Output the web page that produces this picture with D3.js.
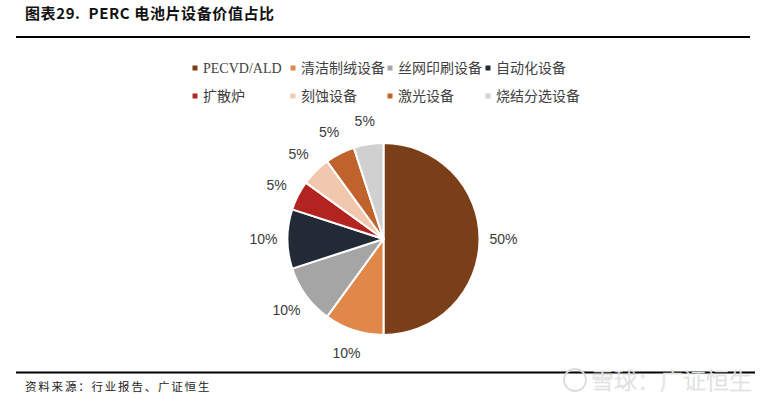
<!DOCTYPE html>
<html>
<head>
<meta charset="utf-8">
<script src="https://cdn.jsdelivr.net/npm/d3@7"></script>
<style>
  html, body { margin: 0; padding: 0; background: #fff; }
  svg { display: block; }
</style>
</head>
<body>
<svg id="chart" width="772" height="402"></svg>
<script>
// Equipment value share of a PERC cell line
const categories = ["PECVD/ALD", "清洁制绒设备", "丝网印刷设备", "自动化设备", "扩散炉", "刻蚀设备", "激光设备", "烧结分选设备"];
const shares = [50, 10, 10, 10, 5, 5, 5, 5];
const colors = ["#7a3e19", "#e0874a", "#a5a5a5", "#222a35", "#b3231f", "#f1c8ad", "#c0622b", "#d0d0d0"];

const titleText = "图表29.  PERC 电池片设备价值占比";
const sourceText = "资料来源：行业报告、广证恒生";
const watermarkText = "雪球：广证恒生";

const svg = d3.select("#chart");
const cjk = "'Noto Sans CJK SC', 'Noto Sans', sans-serif";
const serif = "'Liberation Serif', 'Noto Sans CJK SC', serif";

// Title and rules
svg.append("text")
  .attr("x", 25).attr("y", 19)
  .style("white-space", "pre")
  .attr("font-family", cjk).attr("font-weight", "bold")
  .attr("font-size", 15).attr("fill", "#111")
  .attr("letter-spacing", 0.6)
  .text(titleText);

svg.append("line").attr("x1", 16).attr("x2", 750).attr("y1", 37).attr("y2", 37)
  .attr("stroke", "#000").attr("stroke-width", 2);
svg.append("line").attr("x1", 16).attr("x2", 755).attr("y1", 372.5).attr("y2", 372.5)
  .attr("stroke", "#000").attr("stroke-width", 2);

svg.append("text")
  .attr("x", 25).attr("y", 391)
  .attr("font-family", cjk).attr("font-size", 11.5)
  .attr("letter-spacing", 1.8).attr("fill", "#222")
  .text(sourceText);

// Pie
const cx = 383.5, cy = 239, radius = 96;
const data = categories.map((c, i) => ({ name: c, value: shares[i], color: colors[i] }));
const pie = d3.pie().value(d => d.value).sort(null);
const arcs = pie(data);
const arc = d3.arc().innerRadius(0).outerRadius(radius);
const labelArc = d3.arc().innerRadius(120).outerRadius(120);

const g = svg.append("g").attr("transform", `translate(${cx},${cy})`);
g.selectAll("path.slice")
  .data(arcs)
  .join("path")
  .attr("class", "slice")
  .attr("d", arc)
  .attr("fill", d => d.data.color)
  .attr("stroke", "#fff")
  .attr("stroke-width", 2)
  .attr("stroke-linejoin", "round");

g.selectAll("text.pct")
  .data(arcs)
  .join("text")
  .attr("class", "pct")
  .attr("transform", d => {
    const [x, y] = labelArc.centroid(d);
    return `translate(${x},${y})`;
  })
  .attr("text-anchor", "middle")
  .attr("dy", "0.36em")
  .attr("font-family", "'Liberation Sans', Arial, sans-serif")
  .attr("font-size", 14)
  .attr("fill", "#3a3a3a")
  .text(d => d.data.value + "%");

// Legend: two rows of four
const legendCols = [195, 293, 390, 488];
const legendRows = [68, 96];
const legend = svg.append("g");
data.forEach((d, i) => {
  const col = i % 4, row = Math.floor(i / 4);
  const x = legendCols[col], y = legendRows[row];
  legend.append("rect")
    .attr("x", x - 2.5).attr("y", y - 2.5)
    .attr("width", 5).attr("height", 5)
    .attr("fill", d.color);
  legend.append("text")
    .attr("x", x + 8).attr("y", y)
    .attr("dy", "0.36em")
    .attr("font-family", serif)
    .attr("font-size", 14)
    .attr("fill", "#404040")
    .text(d.name);
});

// Watermark
const wm = svg.append("g");
wm.append("circle").attr("cx", 575).attr("cy", 380).attr("r", 11)
  .attr("fill", "none").attr("stroke", "#dcdcdc").attr("stroke-width", 1.8);
wm.append("text")
  .attr("x", 591).attr("y", 389)
  .attr("font-family", cjk)
  .attr("font-size", 23)
  .attr("font-weight", 300)
  .attr("fill", "#ececec")
  .attr("stroke", "#dadada").attr("stroke-width", 0.5)
  .text(watermarkText);
</script>
</body>
</html>
